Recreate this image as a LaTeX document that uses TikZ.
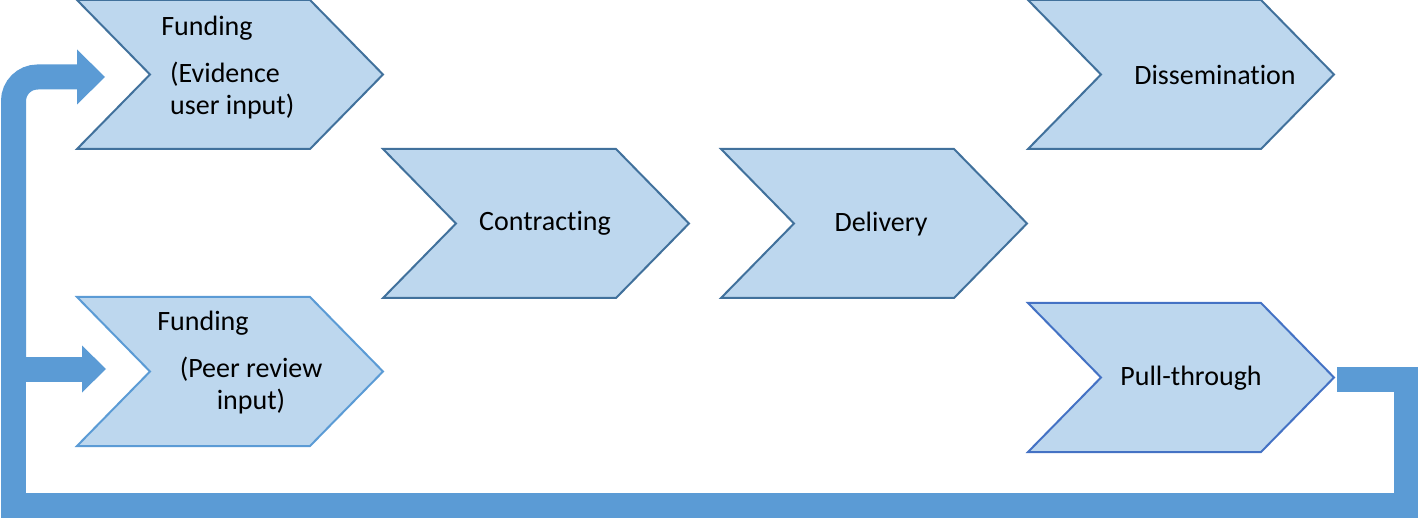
\documentclass[tikz,border=0pt]{standalone}
\usepackage{fontspec}
\setmainfont[Ligatures={NoCommon}]{Carlito}
\definecolor{chfill}{HTML}{BDD7EE}
\definecolor{edgedark}{HTML}{41719C}
\definecolor{edgemid}{HTML}{4472C4}
\definecolor{edgelight}{HTML}{5B9BD5}
\definecolor{band}{HTML}{5B9BD5}
\newcommand\chevshape[4]{% #1 name, #2 left x, #3 top y, #4 edge colour
  \draw[chev,draw=#4] (#2,#3) -- ++(233,0) -- ++(73,74.5) -- ++(-73,74.5)
    -- ++(-233,0) -- ++(73,-74.5) -- cycle;
  \coordinate (#1-tip) at ({#2+306},{#3+74.5});
  \coordinate (#1-notch) at ({#2+73},{#3+74.5});
}
\tikzset{
  chev/.style={fill=chfill, line width=2pt, line join=miter},
  lbl/.style={font=\fontsize{28}{34}\selectfont, inner sep=0pt, text=black},
  bandline/.style={draw=band, line width=25pt, line join=miter},
  bandhead/.style={fill=band, draw=none}
}
\begin{document}
\begin{tikzpicture}[x=1pt,y=-1pt]
\useasboundingbox (0,0) rectangle (1418,518);

% chevrons
\chevshape{f1}{77}{0}{edgedark}
\chevshape{con}{383}{149}{edgedark}
\chevshape{del}{721}{149}{edgedark}
\chevshape{dis}{1028}{0}{edgedark}
\chevshape{f2}{77}{297}{edgelight}
\chevshape{pull}{1028}{303}{edgemid}

% labels
\node[lbl] (f1a) at (207,28) {Funding};
\node[lbl, align=left, anchor=west] (f1b) at (170,91) {(Evidence\\[-2pt]user input)};
\node[lbl] (f2a) at (203,323) {Funding};
\node[lbl, align=center] (f2b) at (251,386) {(Peer review\\[-2pt]input)};
\node[lbl] (con) at (545,223) {Contracting};
\node[lbl] (del) at (881,224) {Delivery};
\node[lbl] (dis) at (1215,75) {Dissemination};
\node[lbl] (pull) at (1191,378) {Pull-through};

% feedback band
\coordinate (bandR) at (1406.5,379.5);
\coordinate (bandBR) at (1406.5,505.5);
\coordinate (bandBL) at (13.5,505.5);
\coordinate (bandJ) at (13.5,369);
\coordinate (top-head) at (77,77);
\coordinate (bot-head) at (82,369);

\draw[bandline] ([xshift=3pt]pull-tip |- bandR) -- (bandR) -- (bandBR) -- (bandBL)
  -- (bandJ);
\draw[bandline, rounded corners=24pt] (13.5,380) -- (13.5,77) -- (top-head);
\draw[bandline] (bandJ) -- (bot-head);

% arrow heads
\fill[bandhead] (top-head) ++(0,-27.5) -- ++(28,27.5) -- ++(-28,27.5) -- cycle;
\fill[bandhead] (bot-head) ++(0,-23.5) -- ++(24,23.5) -- ++(-24,23.5) -- cycle;
\end{tikzpicture}
\end{document}
